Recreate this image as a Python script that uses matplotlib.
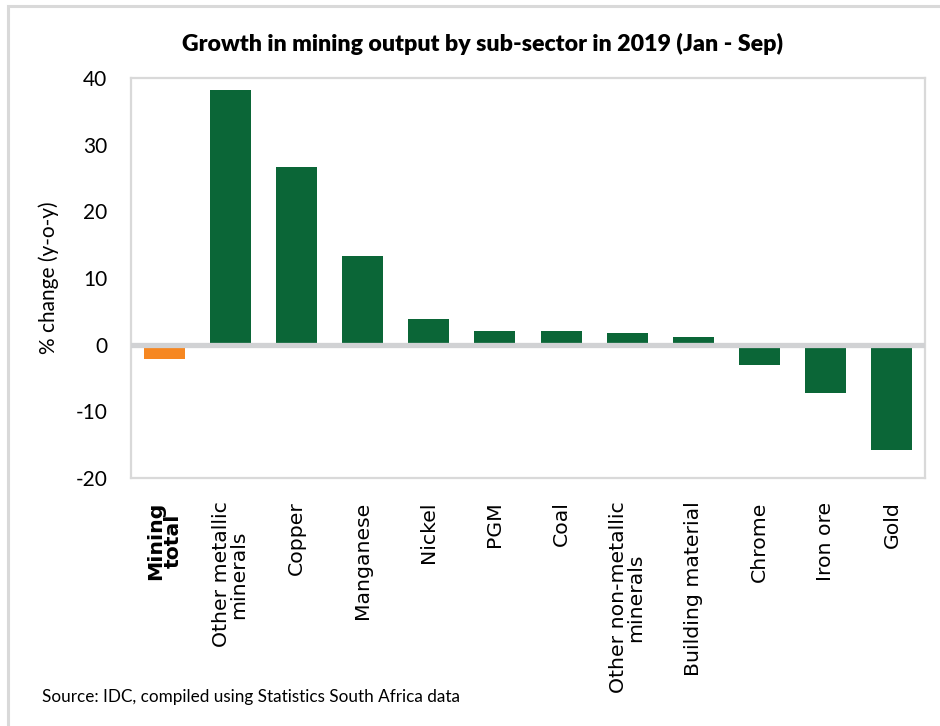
import matplotlib
matplotlib.use("Agg")
import matplotlib.pyplot as plt
from matplotlib.patches import Rectangle

# growth by sub-sector, % change y-o-y (Jan - Sep 2019)
categories = ["Mining\ntotal", "Other metallic\nminerals", "Copper", "Manganese", "Nickel",
              "PGM", "Coal", "Other non-metallic\nminerals", "Building material",
              "Chrome", "Iron ore", "Gold"]
values = [-2.1, 38.2, 26.6, 13.3, 3.9, 2.1, 2.1, 1.8, 1.2, -3.1, -7.2, -15.8]
yticks = [-20, -10, 0, 10, 20, 30, 40]

green = "#0b6637"
orange = "#f68721"
colors = [orange] + [green] * (len(values) - 1)
narrow = "Lato"

fig = plt.figure(figsize=(9.4, 7.26), dpi=100)
ax = fig.add_axes([0.1394, 0.3416, 0.8446, 0.551])

x = range(len(categories))
ax.bar(x, values, width=0.62, color=colors, zorder=2)
ax.axhline(0, color="#d1d2d4", lw=3.8, zorder=3)

ax.set_xlim(-0.5, len(categories) - 0.5)
ax.set_ylim(-20, 40)
ax.set_yticks(yticks)
ax.set_yticklabels([str(v) for v in yticks], fontsize=15, family=narrow)
ax.tick_params(axis="y", length=0, pad=17)
ax.tick_params(axis="x", length=0, pad=17)
ax.set_xticks(list(x))
ax.set_xticklabels(categories, rotation=90, fontsize=14.7, va="top", ha="center",
                   linespacing=0.9)
ax.get_xticklabels()[0].set_fontweight("bold")

for s in ax.spines.values():
    s.set_color("#d9d9d9")
    s.set_linewidth(1.6)

ax.set_ylabel("% change (y-o-y)", fontsize=15, family=narrow, labelpad=12)

fig.text(0.513, 0.939, "Growth in mining output by sub-sector in 2019 (Jan - Sep)",
         ha="center", va="center", fontsize=16.7, fontweight="heavy", family=narrow)
fig.text(0.045, 0.04, "Source: IDC, compiled using Statistics South Africa data",
         ha="left", va="center", fontsize=12.3, family=narrow)

# outer border of the panel
fig.patches.append(Rectangle((0.008, -0.01), 1.0, 1.0 - 0.0083 + 0.01, transform=fig.transFigure,
                             fill=False, edgecolor="#d9d9d9", lw=2.2))

fig.savefig("out.png", dpi=100)
